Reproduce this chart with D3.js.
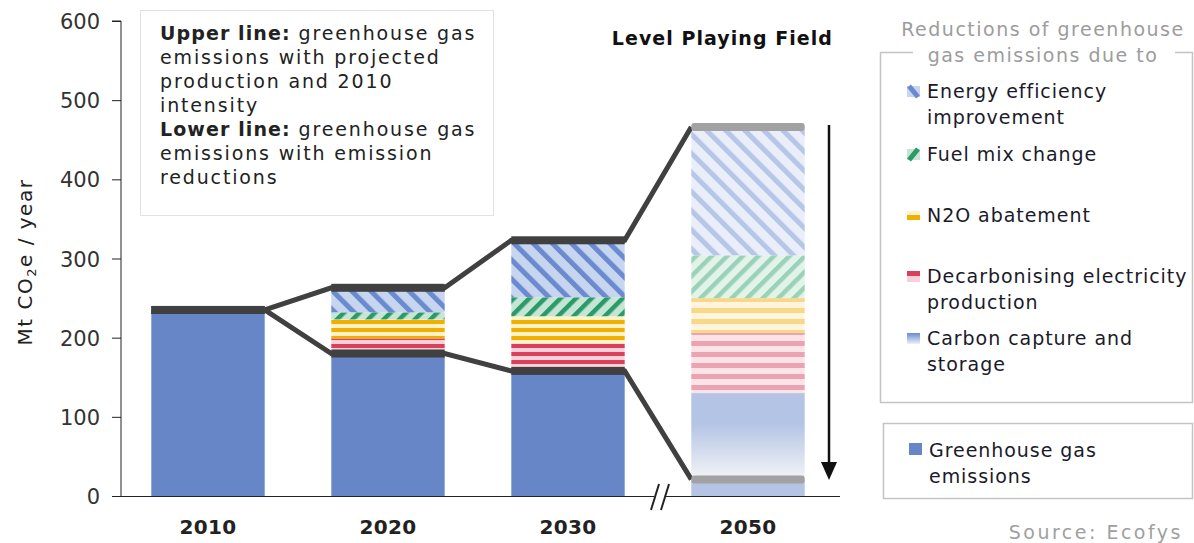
<!DOCTYPE html>
<html><head><meta charset="utf-8">
<script src="https://cdn.jsdelivr.net/npm/d3@7"></script>
<style>
html,body{margin:0;padding:0;background:#fff;}
svg{display:block;font-family:"DejaVu Sans",Verdana,sans-serif;}
</style></head>
<body>
<svg id="chart" width="1194" height="543"></svg>
<script>
// ---- data ----
const years = ["2010", "2020", "2030", "2050"];
const ghgEmissions = [235, 180, 158, 21];      // lower line (emissions with reductions)
const ccs = [0, 0, 0, 109];
const decarbonising = [0, 19, 35, 76];
const n2oAbatement = [0, 24, 34, 44];
const fuelMix = [0, 9, 24, 54];
const energyEfficiency = [0, 31, 72, 162];
const upperLine = [235, 263, 323, 466];       // projected production, 2010 intensity
const yTicks = [0, 100, 200, 300, 400, 500, 600];

const svg = d3.select("#chart");
const defs = svg.append("defs");

const x = d3.scaleBand().domain(years).range([118, 838]).paddingInner(0.37).paddingOuter(0.185);
const y = d3.scaleLinear().domain([0, 600]).range([496, 21]);
const bw = x.bandwidth();

// ---- patterns ----
function diag(id, bg, fg, angle, period, stripe) {
  const p = defs.append("pattern").attr("id", id).attr("patternUnits", "userSpaceOnUse")
    .attr("width", period).attr("height", period).attr("patternTransform", `rotate(${angle})`);
  p.append("rect").attr("width", period).attr("height", period).attr("fill", bg);
  p.append("rect").attr("width", stripe).attr("height", period).attr("fill", fg);
}
function horiz(id, bg, fg, period, stripe) {
  const p = defs.append("pattern").attr("id", id).attr("patternUnits", "userSpaceOnUse")
    .attr("width", 10).attr("height", period);
  p.append("rect").attr("width", 10).attr("height", period).attr("fill", bg);
  p.append("rect").attr("width", 10).attr("height", stripe).attr("fill", fg);
}
diag("ee", "#c8d5ef", "#6a8bd0", -45, 13.5, 5);
diag("fm", "#c5e5d5", "#2a9a68", 45, 11, 4.5);
horiz("n2", "#fff2c8", "#f0b000", 8, 4);
horiz("dc", "#f7d0d8", "#d8405c", 8, 4);
diag("eeF", "#e9eef9", "#b5c6e9", -45, 13.5, 5);
diag("fmF", "#e3f3ea", "#99d2b6", 45, 11, 4.5);
horiz("n2F", "#fff5dd", "#f8d888", 11, 5);
horiz("dcF", "#fbe3e8", "#eba2b1", 11, 5);
const g1 = defs.append("linearGradient").attr("id", "ccsF").attr("x1", 0).attr("x2", 0).attr("y1", 0).attr("y2", 1);
g1.append("stop").attr("offset", "0%").attr("stop-color", "#b3c4e5");
g1.append("stop").attr("offset", "35%").attr("stop-color", "#b3c4e5");
g1.append("stop").attr("offset", "100%").attr("stop-color", "#f4f4f6");
const g2 = defs.append("linearGradient").attr("id", "ccsL").attr("x1", 0).attr("x2", 0).attr("y1", 0).attr("y2", 1);
g2.append("stop").attr("offset", "0%").attr("stop-color", "#6a8bd0");
g2.append("stop").attr("offset", "100%").attr("stop-color", "#eef1f8");

// ---- stacked segments ----
const layers = [
  {vals: ghgEmissions, fill: ["#6786c8", "#6786c8", "#6786c8", "#b3c4e5"]},
  {vals: ccs, fill: ["url(#ccsF)", "url(#ccsF)", "url(#ccsF)", "url(#ccsF)"]},
  {vals: decarbonising, fill: ["url(#dc)", "url(#dc)", "url(#dc)", "url(#dcF)"]},
  {vals: n2oAbatement, fill: ["url(#n2)", "url(#n2)", "url(#n2)", "url(#n2F)"]},
  {vals: fuelMix, fill: ["url(#fm)", "url(#fm)", "url(#fm)", "url(#fmF)"]},
  {vals: energyEfficiency, fill: ["url(#ee)", "url(#ee)", "url(#ee)", "url(#eeF)"]}
];
const barsG = svg.append("g");
years.forEach((yr, i) => {
  let base = 0;
  layers.forEach(L => {
    const v = L.vals[i];
    if (v > 0) {
      barsG.append("rect").attr("x", x(yr)).attr("width", bw)
        .attr("y", y(base + v)).attr("height", y(base) - y(base + v))
        .attr("fill", L.fill[i]);
    }
    base += v;
  });
});

// ---- axes ----
const yAxis = d3.axisLeft(y).tickValues(yTicks).tickSize(9).tickPadding(12);
const ya = svg.append("g").attr("transform", "translate(121,0)").call(yAxis);
ya.select(".domain").attr("stroke", "#222").attr("d", `M-9,${y(600)}H0V${y(0)}`);
ya.selectAll(".tick line").attr("stroke", "#222");
ya.selectAll(".tick text").attr("font-size", 21).attr("fill", "#333")
  .attr("font-family", "DejaVu Sans").attr("dy", "0.36em");

svg.append("line").attr("x1", 121).attr("x2", 840).attr("y1", y(0) + 0.5).attr("y2", y(0) + 0.5)
  .attr("stroke", "#222").attr("stroke-width", 1.2);

const xAxis = d3.axisBottom(x).tickSize(0).tickPadding(24);
const xa = svg.append("g").attr("transform", `translate(0,${y(0)})`).call(xAxis);
xa.select(".domain").remove();
xa.selectAll(".tick text").attr("font-size", 20).attr("font-weight", "bold").attr("fill", "#222")
  .attr("letter-spacing", 0.4).attr("font-family", "DejaVu Sans");

// axis break
const bx = (x("2030") + bw + x("2050")) / 2 + 5;
svg.append("rect").attr("x", bx - 9).attr("y", y(0) - 3).attr("width", 12).attr("height", 6).attr("fill", "#fff");
[-8, 2].forEach(dx => {
  svg.append("line").attr("x1", bx + dx - 4).attr("y1", y(0) + 14).attr("x2", bx + dx + 4).attr("y2", y(0) - 12)
    .attr("stroke", "#222").attr("stroke-width", 2);
});

// ---- connecting lines and caps ----
function linePts(vals) {
  const pts = [];
  years.forEach((yr, i) => {
    if (i > 0) pts.push([x(yr), y(vals[i])]);
    if (i < years.length - 1) pts.push([x(yr) + bw, y(vals[i])]);
  });
  return pts;
}
const lineGen = d3.line();
[upperLine, ghgEmissions].forEach(vals => {
  svg.append("path").attr("d", lineGen(linePts(vals))).attr("fill", "none")
    .attr("stroke", "#404040").attr("stroke-width", 5);
});
years.forEach((yr, i) => {
  const faded = i === years.length - 1;
  [upperLine[i], ghgEmissions[i]].forEach(v => {
    svg.append("rect").attr("x", x(yr)).attr("width", bw).attr("y", y(v) - 4).attr("height", 8)
      .attr("rx", faded ? 3 : 0).attr("fill", faded ? "#a2a2a2" : "#404040");
  });
});

// arrow
const ax = 829;
svg.append("line").attr("x1", ax).attr("x2", ax).attr("y1", y(upperLine[3]) - 2).attr("y2", 466)
  .attr("stroke", "#111").attr("stroke-width", 2.5);
svg.append("path").attr("d", `M${ax - 8},462L${ax + 8},462L${ax},480Z`).attr("fill", "#111");

svg.append("text").attr("x", 833).attr("y", 45).attr("text-anchor", "end")
  .attr("font-size", 19).attr("letter-spacing", 1.05).attr("font-weight", "bold").attr("fill", "#111").text("Level Playing Field");

// ---- info box ----
svg.append("rect").attr("x", 140.5).attr("y", 10.5).attr("width", 353).attr("height", 205)
  .attr("fill", "#fff").attr("stroke", "#e2e2e2");
const infoLines = [
  [["Upper line:", true], [" greenhouse gas", false]],
  [["emissions with projected", false]],
  [["production and 2010", false]],
  [["intensity", false]],
  [["Lower line:", true], [" greenhouse gas", false]],
  [["emissions with emission", false]],
  [["reductions", false]]
];
infoLines.forEach((ln, k) => {
  const t = svg.append("text").attr("x", 160).attr("y", 40 + k * 24).attr("font-size", 19).attr("fill", "#222");
  ln.forEach(([s, b]) => t.append("tspan").attr("font-weight", b ? "bold" : "normal")
    .attr("letter-spacing", b ? 1.1 : 1.85).text(s));
});

// ---- y label ----
const yl = svg.append("text").attr("transform", "translate(32,262) rotate(-90)").attr("text-anchor", "middle")
  .attr("font-size", 20).attr("letter-spacing", 1.5).attr("fill", "#222");
yl.append("tspan").text("Mt CO");
yl.append("tspan").attr("font-size", 13).attr("dy", 4).text("2");
yl.append("tspan").attr("dy", -4).text("e / year");

// ---- legend ----
const lg = svg.append("g");
lg.append("path").attr("d", "M913,52.5H880.5V402.5H1192.5V52.5H1175").attr("fill", "none").attr("stroke", "#c4c4c4").attr("stroke-width", 1.5);
["Reductions of greenhouse", "gas emissions due to"].forEach((s, k) => {
  lg.append("text").attr("x", 1043).attr("y", 36 + k * 26).attr("text-anchor", "middle")
    .attr("font-size", 19).attr("letter-spacing", 1.5).attr("fill", "#9c9c9c").text(s);
});
const legItems = [
  {lines: ["Energy efficiency", "improvement"], y: 98, sw: "ee"},
  {lines: ["Fuel mix change"], y: 161, sw: "fm"},
  {lines: ["N2O abatement"], y: 222, sw: "n2"},
  {lines: ["Decarbonising electricity", "production"], y: 283, sw: "dc"},
  {lines: ["Carbon capture and", "storage"], y: 345, sw: "ccs"}
];
legItems.forEach((it) => {
  const sy = it.y - 12;
  if (it.sw === "ee") {
    lg.append("rect").attr("x", 907).attr("y", sy).attr("width", 13).attr("height", 11).attr("fill", "#c8d5ef");
    lg.append("path").attr("d", `M909,${sy}L918,${sy + 11}`).attr("stroke", "#6a8bd0").attr("stroke-width", 5);
  } else if (it.sw === "fm") {
    lg.append("rect").attr("x", 907).attr("y", sy).attr("width", 13).attr("height", 11).attr("fill", "#c5e5d5");
    lg.append("path").attr("d", `M909,${sy + 11}L918,${sy}`).attr("stroke", "#2a9a68").attr("stroke-width", 5);
  } else if (it.sw === "n2") {
    lg.append("rect").attr("x", 907).attr("y", sy + 1).attr("width", 13).attr("height", 9).attr("fill", "#fff2c8");
    lg.append("rect").attr("x", 907).attr("y", sy + 5).attr("width", 13).attr("height", 5).attr("fill", "#f0b000");
  } else if (it.sw === "dc") {
    lg.append("rect").attr("x", 907).attr("y", sy).attr("width", 13).attr("height", 11).attr("fill", "#f7d0d8");
    lg.append("rect").attr("x", 907).attr("y", sy).attr("width", 13).attr("height", 5).attr("fill", "#d8405c");
  } else {
    lg.append("rect").attr("x", 907).attr("y", sy).attr("width", 13).attr("height", 11).attr("fill", "url(#ccsL)");
  }
  it.lines.forEach((s, j) => {
    lg.append("text").attr("x", 927).attr("y", it.y + j * 26).attr("font-size", 19)
      .attr("letter-spacing", 0.95).attr("fill", "#1a1a2a").text(s);
  });
});
lg.append("rect").attr("x", 883.5).attr("y", 423.5).attr("width", 309).attr("height", 75)
  .attr("fill", "none").attr("stroke", "#c4c4c4").attr("stroke-width", 1.5);
lg.append("rect").attr("x", 909).attr("y", 443).attr("width", 13).attr("height", 12).attr("fill", "#6786c8");
["Greenhouse gas", "emissions"].forEach((s, j) => {
  lg.append("text").attr("x", 929).attr("y", 457 + j * 26).attr("font-size", 19)
    .attr("letter-spacing", 0.95).attr("fill", "#1a1a2a").text(s);
});
svg.append("text").attr("x", 1183).attr("y", 539).attr("text-anchor", "end").attr("font-size", 19)
  .attr("letter-spacing", 2.5).attr("fill", "#a0a0a0").text("Source: Ecofys");
</script>
</body></html>
